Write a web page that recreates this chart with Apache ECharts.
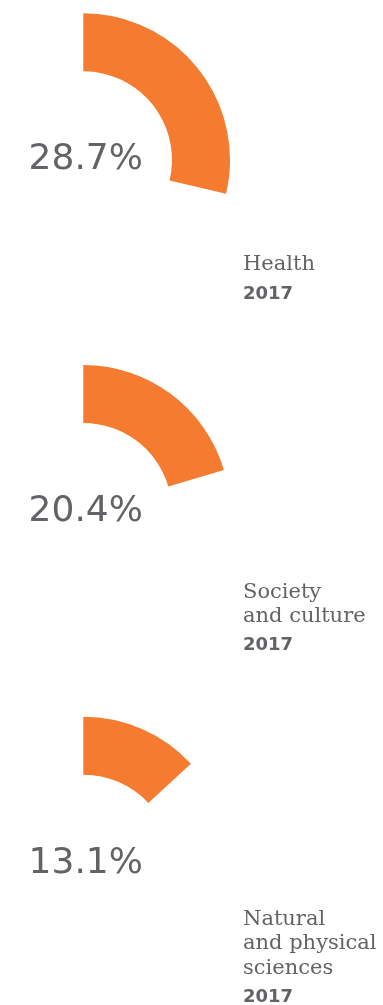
<!DOCTYPE html>
<html>
<head>
<meta charset="utf-8">
<title>Share by field of study, 2017</title>
<script src="https://cdn.jsdelivr.net/npm/echarts@6/dist/echarts.min.js"></script>
<style>
  html, body { margin: 0; padding: 0; background: #ffffff; }
  #chart { width: 383px; height: 1005px; }
</style>
</head>
<body>
<div id="chart"></div>
<script>
// Fields of study and their share (%)
const categories = ['Health', 'Society and culture', 'Natural and physical sciences'];
const nameLines = [['Health'], ['Society', 'and culture'], ['Natural', 'and physical', 'sciences']];
const shares = [28.7, 20.4, 13.1];
const years = ['2017', '2017', '2017'];

const ORANGE = '#F47B2F';
const GREY = '#626366';
const TEXT_X = 243;
const CX = 83.3;
const CY0 = 160;
const STEP = 351.7;
const R_IN = 88.7;
const R_OUT = 146.7;

const chart = echarts.init(document.getElementById('chart'), null, { renderer: 'canvas' });

const series = categories.map((name, i) => ({
  type: 'pie',
  center: [CX, CY0 + i * STEP],
  radius: [R_IN, R_OUT],
  startAngle: 90,
  clockwise: true,
  avoidLabelOverlap: false,
  silent: true,
  emphasis: { disabled: true },
  labelLine: { show: false },
  label: {
    show: true,
    position: 'center',
    formatter: '{c}%',
    color: GREY,
    fontFamily: 'DejaVu Sans',
    fontSize: 36,
    fontWeight: 'normal',
    padding: [11, 0, 0, 5]
  },
  data: [
    { value: shares[i], name: name, itemStyle: { color: ORANGE } },
    { value: +(100 - shares[i]).toFixed(1), name: '', itemStyle: { color: 'rgba(0,0,0,0)' }, label: { show: false } }
  ]
}));

// Category names and year, stacked to the lower right of each arc
const graphics = [];
categories.forEach((name, i) => {
  const cy = CY0 + i * STEP;
  const lines = nameLines[i];
  const lastY = cy + 105;
  lines.forEach((line, j) => {
    graphics.push({
      type: 'text',
      x: TEXT_X,
      y: lastY - (lines.length - 1 - j) * 24.5,
      silent: true,
      style: {
        text: line,
        fill: GREY,
        fontFamily: 'DejaVu Serif',
        fontSize: 21,
        align: 'left',
        verticalAlign: 'middle'
      }
    });
  });
  graphics.push({
    type: 'text',
    x: TEXT_X,
    y: cy + 134,
    silent: true,
    style: {
      text: years[i],
      fill: GREY,
      fontFamily: 'DejaVu Sans',
      fontWeight: 'bold',
      fontSize: 18,
      align: 'left',
      verticalAlign: 'middle'
    }
  });
});

chart.setOption({
  backgroundColor: '#ffffff',
  animation: false,
  series: series,
  graphic: graphics
});
</script>
</body>
</html>
